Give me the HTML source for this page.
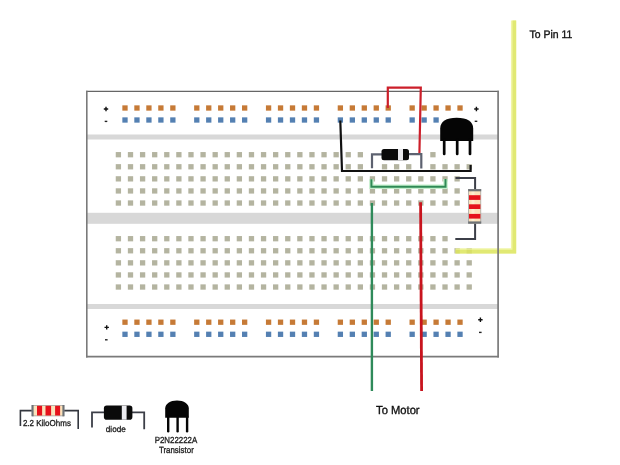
<!DOCTYPE html><html><head><meta charset="utf-8"><style>html,body{margin:0;padding:0;background:#fff;width:620px;height:465px;overflow:hidden}svg{display:block}text{font-family:"Liberation Sans",sans-serif;text-rendering:geometricPrecision}svg{will-change:transform}</style></head><body>
<svg width="620" height="465" viewBox="0 0 620 465">
<rect x="0" y="0" width="620" height="465" fill="#fff"/>
<rect x="87" y="134.5" width="411" height="5" fill="#d8d8d8"/>
<rect x="87" y="212.8" width="411" height="11" fill="#d8d8d8"/>
<rect x="87" y="304" width="411" height="5" fill="#d8d8d8"/>
<rect x="122.35" y="105.35" width="5.3" height="5.3" fill="#c67a36"/>
<rect x="122.35" y="117.35" width="5.3" height="5.3" fill="#5480b2"/>
<rect x="122.35" y="319.55" width="5.3" height="5.3" fill="#c67a36"/>
<rect x="122.35" y="331.65" width="5.3" height="5.3" fill="#5480b2"/>
<rect x="134.31" y="105.35" width="5.3" height="5.3" fill="#c67a36"/>
<rect x="134.31" y="117.35" width="5.3" height="5.3" fill="#5480b2"/>
<rect x="134.31" y="319.55" width="5.3" height="5.3" fill="#c67a36"/>
<rect x="134.31" y="331.65" width="5.3" height="5.3" fill="#5480b2"/>
<rect x="146.28" y="105.35" width="5.3" height="5.3" fill="#c67a36"/>
<rect x="146.28" y="117.35" width="5.3" height="5.3" fill="#5480b2"/>
<rect x="146.28" y="319.55" width="5.3" height="5.3" fill="#c67a36"/>
<rect x="146.28" y="331.65" width="5.3" height="5.3" fill="#5480b2"/>
<rect x="158.24" y="105.35" width="5.3" height="5.3" fill="#c67a36"/>
<rect x="158.24" y="117.35" width="5.3" height="5.3" fill="#5480b2"/>
<rect x="158.24" y="319.55" width="5.3" height="5.3" fill="#c67a36"/>
<rect x="158.24" y="331.65" width="5.3" height="5.3" fill="#5480b2"/>
<rect x="170.21" y="105.35" width="5.3" height="5.3" fill="#c67a36"/>
<rect x="170.21" y="117.35" width="5.3" height="5.3" fill="#5480b2"/>
<rect x="170.21" y="319.55" width="5.3" height="5.3" fill="#c67a36"/>
<rect x="170.21" y="331.65" width="5.3" height="5.3" fill="#5480b2"/>
<rect x="194.14" y="105.35" width="5.3" height="5.3" fill="#c67a36"/>
<rect x="194.14" y="117.35" width="5.3" height="5.3" fill="#5480b2"/>
<rect x="194.14" y="319.55" width="5.3" height="5.3" fill="#c67a36"/>
<rect x="194.14" y="331.65" width="5.3" height="5.3" fill="#5480b2"/>
<rect x="206.10" y="105.35" width="5.3" height="5.3" fill="#c67a36"/>
<rect x="206.10" y="117.35" width="5.3" height="5.3" fill="#5480b2"/>
<rect x="206.10" y="319.55" width="5.3" height="5.3" fill="#c67a36"/>
<rect x="206.10" y="331.65" width="5.3" height="5.3" fill="#5480b2"/>
<rect x="218.07" y="105.35" width="5.3" height="5.3" fill="#c67a36"/>
<rect x="218.07" y="117.35" width="5.3" height="5.3" fill="#5480b2"/>
<rect x="218.07" y="319.55" width="5.3" height="5.3" fill="#c67a36"/>
<rect x="218.07" y="331.65" width="5.3" height="5.3" fill="#5480b2"/>
<rect x="230.03" y="105.35" width="5.3" height="5.3" fill="#c67a36"/>
<rect x="230.03" y="117.35" width="5.3" height="5.3" fill="#5480b2"/>
<rect x="230.03" y="319.55" width="5.3" height="5.3" fill="#c67a36"/>
<rect x="230.03" y="331.65" width="5.3" height="5.3" fill="#5480b2"/>
<rect x="242.00" y="105.35" width="5.3" height="5.3" fill="#c67a36"/>
<rect x="242.00" y="117.35" width="5.3" height="5.3" fill="#5480b2"/>
<rect x="242.00" y="319.55" width="5.3" height="5.3" fill="#c67a36"/>
<rect x="242.00" y="331.65" width="5.3" height="5.3" fill="#5480b2"/>
<rect x="265.93" y="105.35" width="5.3" height="5.3" fill="#c67a36"/>
<rect x="265.93" y="117.35" width="5.3" height="5.3" fill="#5480b2"/>
<rect x="265.93" y="319.55" width="5.3" height="5.3" fill="#c67a36"/>
<rect x="265.93" y="331.65" width="5.3" height="5.3" fill="#5480b2"/>
<rect x="277.89" y="105.35" width="5.3" height="5.3" fill="#c67a36"/>
<rect x="277.89" y="117.35" width="5.3" height="5.3" fill="#5480b2"/>
<rect x="277.89" y="319.55" width="5.3" height="5.3" fill="#c67a36"/>
<rect x="277.89" y="331.65" width="5.3" height="5.3" fill="#5480b2"/>
<rect x="289.86" y="105.35" width="5.3" height="5.3" fill="#c67a36"/>
<rect x="289.86" y="117.35" width="5.3" height="5.3" fill="#5480b2"/>
<rect x="289.86" y="319.55" width="5.3" height="5.3" fill="#c67a36"/>
<rect x="289.86" y="331.65" width="5.3" height="5.3" fill="#5480b2"/>
<rect x="301.83" y="105.35" width="5.3" height="5.3" fill="#c67a36"/>
<rect x="301.83" y="117.35" width="5.3" height="5.3" fill="#5480b2"/>
<rect x="301.83" y="319.55" width="5.3" height="5.3" fill="#c67a36"/>
<rect x="301.83" y="331.65" width="5.3" height="5.3" fill="#5480b2"/>
<rect x="313.79" y="105.35" width="5.3" height="5.3" fill="#c67a36"/>
<rect x="313.79" y="117.35" width="5.3" height="5.3" fill="#5480b2"/>
<rect x="313.79" y="319.55" width="5.3" height="5.3" fill="#c67a36"/>
<rect x="313.79" y="331.65" width="5.3" height="5.3" fill="#5480b2"/>
<rect x="337.72" y="105.35" width="5.3" height="5.3" fill="#c67a36"/>
<rect x="337.72" y="117.35" width="5.3" height="5.3" fill="#5480b2"/>
<rect x="337.72" y="319.55" width="5.3" height="5.3" fill="#c67a36"/>
<rect x="337.72" y="331.65" width="5.3" height="5.3" fill="#5480b2"/>
<rect x="349.69" y="105.35" width="5.3" height="5.3" fill="#c67a36"/>
<rect x="349.69" y="117.35" width="5.3" height="5.3" fill="#5480b2"/>
<rect x="349.69" y="319.55" width="5.3" height="5.3" fill="#c67a36"/>
<rect x="349.69" y="331.65" width="5.3" height="5.3" fill="#5480b2"/>
<rect x="361.65" y="105.35" width="5.3" height="5.3" fill="#c67a36"/>
<rect x="361.65" y="117.35" width="5.3" height="5.3" fill="#5480b2"/>
<rect x="361.65" y="319.55" width="5.3" height="5.3" fill="#c67a36"/>
<rect x="361.65" y="331.65" width="5.3" height="5.3" fill="#5480b2"/>
<rect x="373.62" y="105.35" width="5.3" height="5.3" fill="#c67a36"/>
<rect x="373.62" y="117.35" width="5.3" height="5.3" fill="#5480b2"/>
<rect x="373.62" y="319.55" width="5.3" height="5.3" fill="#c67a36"/>
<rect x="373.62" y="331.65" width="5.3" height="5.3" fill="#5480b2"/>
<rect x="385.58" y="105.35" width="5.3" height="5.3" fill="#c67a36"/>
<rect x="385.58" y="117.35" width="5.3" height="5.3" fill="#5480b2"/>
<rect x="385.58" y="319.55" width="5.3" height="5.3" fill="#c67a36"/>
<rect x="385.58" y="331.65" width="5.3" height="5.3" fill="#5480b2"/>
<rect x="409.51" y="105.35" width="5.3" height="5.3" fill="#c67a36"/>
<rect x="409.51" y="117.35" width="5.3" height="5.3" fill="#5480b2"/>
<rect x="409.51" y="319.55" width="5.3" height="5.3" fill="#c67a36"/>
<rect x="409.51" y="331.65" width="5.3" height="5.3" fill="#5480b2"/>
<rect x="421.48" y="105.35" width="5.3" height="5.3" fill="#c67a36"/>
<rect x="421.48" y="117.35" width="5.3" height="5.3" fill="#5480b2"/>
<rect x="421.48" y="319.55" width="5.3" height="5.3" fill="#c67a36"/>
<rect x="421.48" y="331.65" width="5.3" height="5.3" fill="#5480b2"/>
<rect x="433.44" y="105.35" width="5.3" height="5.3" fill="#c67a36"/>
<rect x="433.44" y="117.35" width="5.3" height="5.3" fill="#5480b2"/>
<rect x="433.44" y="319.55" width="5.3" height="5.3" fill="#c67a36"/>
<rect x="433.44" y="331.65" width="5.3" height="5.3" fill="#5480b2"/>
<rect x="445.41" y="105.35" width="5.3" height="5.3" fill="#c67a36"/>
<rect x="445.41" y="319.55" width="5.3" height="5.3" fill="#c67a36"/>
<rect x="445.41" y="331.65" width="5.3" height="5.3" fill="#5480b2"/>
<rect x="457.37" y="105.35" width="5.3" height="5.3" fill="#c67a36"/>
<rect x="457.37" y="319.55" width="5.3" height="5.3" fill="#c67a36"/>
<rect x="457.37" y="331.65" width="5.3" height="5.3" fill="#5480b2"/>
<rect x="115.75" y="152.05" width="5.3" height="5.3" fill="#b4b4a0"/>
<rect x="115.75" y="236.05" width="5.3" height="5.3" fill="#b4b4a0"/>
<rect x="115.75" y="164.13" width="5.3" height="5.3" fill="#b4b4a0"/>
<rect x="115.75" y="248.13" width="5.3" height="5.3" fill="#b4b4a0"/>
<rect x="115.75" y="176.21" width="5.3" height="5.3" fill="#b4b4a0"/>
<rect x="115.75" y="260.21" width="5.3" height="5.3" fill="#b4b4a0"/>
<rect x="115.75" y="188.29" width="5.3" height="5.3" fill="#b4b4a0"/>
<rect x="115.75" y="272.29" width="5.3" height="5.3" fill="#b4b4a0"/>
<rect x="115.75" y="200.37" width="5.3" height="5.3" fill="#b4b4a0"/>
<rect x="115.75" y="284.37" width="5.3" height="5.3" fill="#b4b4a0"/>
<rect x="127.85" y="152.05" width="5.3" height="5.3" fill="#b4b4a0"/>
<rect x="127.85" y="236.05" width="5.3" height="5.3" fill="#b4b4a0"/>
<rect x="127.85" y="164.13" width="5.3" height="5.3" fill="#b4b4a0"/>
<rect x="127.85" y="248.13" width="5.3" height="5.3" fill="#b4b4a0"/>
<rect x="127.85" y="176.21" width="5.3" height="5.3" fill="#b4b4a0"/>
<rect x="127.85" y="260.21" width="5.3" height="5.3" fill="#b4b4a0"/>
<rect x="127.85" y="188.29" width="5.3" height="5.3" fill="#b4b4a0"/>
<rect x="127.85" y="272.29" width="5.3" height="5.3" fill="#b4b4a0"/>
<rect x="127.85" y="200.37" width="5.3" height="5.3" fill="#b4b4a0"/>
<rect x="127.85" y="284.37" width="5.3" height="5.3" fill="#b4b4a0"/>
<rect x="139.94" y="152.05" width="5.3" height="5.3" fill="#b4b4a0"/>
<rect x="139.94" y="236.05" width="5.3" height="5.3" fill="#b4b4a0"/>
<rect x="139.94" y="164.13" width="5.3" height="5.3" fill="#b4b4a0"/>
<rect x="139.94" y="248.13" width="5.3" height="5.3" fill="#b4b4a0"/>
<rect x="139.94" y="176.21" width="5.3" height="5.3" fill="#b4b4a0"/>
<rect x="139.94" y="260.21" width="5.3" height="5.3" fill="#b4b4a0"/>
<rect x="139.94" y="188.29" width="5.3" height="5.3" fill="#b4b4a0"/>
<rect x="139.94" y="272.29" width="5.3" height="5.3" fill="#b4b4a0"/>
<rect x="139.94" y="200.37" width="5.3" height="5.3" fill="#b4b4a0"/>
<rect x="139.94" y="284.37" width="5.3" height="5.3" fill="#b4b4a0"/>
<rect x="152.04" y="152.05" width="5.3" height="5.3" fill="#b4b4a0"/>
<rect x="152.04" y="236.05" width="5.3" height="5.3" fill="#b4b4a0"/>
<rect x="152.04" y="164.13" width="5.3" height="5.3" fill="#b4b4a0"/>
<rect x="152.04" y="248.13" width="5.3" height="5.3" fill="#b4b4a0"/>
<rect x="152.04" y="176.21" width="5.3" height="5.3" fill="#b4b4a0"/>
<rect x="152.04" y="260.21" width="5.3" height="5.3" fill="#b4b4a0"/>
<rect x="152.04" y="188.29" width="5.3" height="5.3" fill="#b4b4a0"/>
<rect x="152.04" y="272.29" width="5.3" height="5.3" fill="#b4b4a0"/>
<rect x="152.04" y="200.37" width="5.3" height="5.3" fill="#b4b4a0"/>
<rect x="152.04" y="284.37" width="5.3" height="5.3" fill="#b4b4a0"/>
<rect x="164.14" y="152.05" width="5.3" height="5.3" fill="#b4b4a0"/>
<rect x="164.14" y="236.05" width="5.3" height="5.3" fill="#b4b4a0"/>
<rect x="164.14" y="164.13" width="5.3" height="5.3" fill="#b4b4a0"/>
<rect x="164.14" y="248.13" width="5.3" height="5.3" fill="#b4b4a0"/>
<rect x="164.14" y="176.21" width="5.3" height="5.3" fill="#b4b4a0"/>
<rect x="164.14" y="260.21" width="5.3" height="5.3" fill="#b4b4a0"/>
<rect x="164.14" y="188.29" width="5.3" height="5.3" fill="#b4b4a0"/>
<rect x="164.14" y="272.29" width="5.3" height="5.3" fill="#b4b4a0"/>
<rect x="164.14" y="200.37" width="5.3" height="5.3" fill="#b4b4a0"/>
<rect x="164.14" y="284.37" width="5.3" height="5.3" fill="#b4b4a0"/>
<rect x="176.23" y="152.05" width="5.3" height="5.3" fill="#b4b4a0"/>
<rect x="176.23" y="236.05" width="5.3" height="5.3" fill="#b4b4a0"/>
<rect x="176.23" y="164.13" width="5.3" height="5.3" fill="#b4b4a0"/>
<rect x="176.23" y="248.13" width="5.3" height="5.3" fill="#b4b4a0"/>
<rect x="176.23" y="176.21" width="5.3" height="5.3" fill="#b4b4a0"/>
<rect x="176.23" y="260.21" width="5.3" height="5.3" fill="#b4b4a0"/>
<rect x="176.23" y="188.29" width="5.3" height="5.3" fill="#b4b4a0"/>
<rect x="176.23" y="272.29" width="5.3" height="5.3" fill="#b4b4a0"/>
<rect x="176.23" y="200.37" width="5.3" height="5.3" fill="#b4b4a0"/>
<rect x="176.23" y="284.37" width="5.3" height="5.3" fill="#b4b4a0"/>
<rect x="188.33" y="152.05" width="5.3" height="5.3" fill="#b4b4a0"/>
<rect x="188.33" y="236.05" width="5.3" height="5.3" fill="#b4b4a0"/>
<rect x="188.33" y="164.13" width="5.3" height="5.3" fill="#b4b4a0"/>
<rect x="188.33" y="248.13" width="5.3" height="5.3" fill="#b4b4a0"/>
<rect x="188.33" y="176.21" width="5.3" height="5.3" fill="#b4b4a0"/>
<rect x="188.33" y="260.21" width="5.3" height="5.3" fill="#b4b4a0"/>
<rect x="188.33" y="188.29" width="5.3" height="5.3" fill="#b4b4a0"/>
<rect x="188.33" y="272.29" width="5.3" height="5.3" fill="#b4b4a0"/>
<rect x="188.33" y="200.37" width="5.3" height="5.3" fill="#b4b4a0"/>
<rect x="188.33" y="284.37" width="5.3" height="5.3" fill="#b4b4a0"/>
<rect x="200.43" y="152.05" width="5.3" height="5.3" fill="#b4b4a0"/>
<rect x="200.43" y="236.05" width="5.3" height="5.3" fill="#b4b4a0"/>
<rect x="200.43" y="164.13" width="5.3" height="5.3" fill="#b4b4a0"/>
<rect x="200.43" y="248.13" width="5.3" height="5.3" fill="#b4b4a0"/>
<rect x="200.43" y="176.21" width="5.3" height="5.3" fill="#b4b4a0"/>
<rect x="200.43" y="260.21" width="5.3" height="5.3" fill="#b4b4a0"/>
<rect x="200.43" y="188.29" width="5.3" height="5.3" fill="#b4b4a0"/>
<rect x="200.43" y="272.29" width="5.3" height="5.3" fill="#b4b4a0"/>
<rect x="200.43" y="200.37" width="5.3" height="5.3" fill="#b4b4a0"/>
<rect x="200.43" y="284.37" width="5.3" height="5.3" fill="#b4b4a0"/>
<rect x="212.53" y="152.05" width="5.3" height="5.3" fill="#b4b4a0"/>
<rect x="212.53" y="236.05" width="5.3" height="5.3" fill="#b4b4a0"/>
<rect x="212.53" y="164.13" width="5.3" height="5.3" fill="#b4b4a0"/>
<rect x="212.53" y="248.13" width="5.3" height="5.3" fill="#b4b4a0"/>
<rect x="212.53" y="176.21" width="5.3" height="5.3" fill="#b4b4a0"/>
<rect x="212.53" y="260.21" width="5.3" height="5.3" fill="#b4b4a0"/>
<rect x="212.53" y="188.29" width="5.3" height="5.3" fill="#b4b4a0"/>
<rect x="212.53" y="272.29" width="5.3" height="5.3" fill="#b4b4a0"/>
<rect x="212.53" y="200.37" width="5.3" height="5.3" fill="#b4b4a0"/>
<rect x="212.53" y="284.37" width="5.3" height="5.3" fill="#b4b4a0"/>
<rect x="224.62" y="152.05" width="5.3" height="5.3" fill="#b4b4a0"/>
<rect x="224.62" y="236.05" width="5.3" height="5.3" fill="#b4b4a0"/>
<rect x="224.62" y="164.13" width="5.3" height="5.3" fill="#b4b4a0"/>
<rect x="224.62" y="248.13" width="5.3" height="5.3" fill="#b4b4a0"/>
<rect x="224.62" y="176.21" width="5.3" height="5.3" fill="#b4b4a0"/>
<rect x="224.62" y="260.21" width="5.3" height="5.3" fill="#b4b4a0"/>
<rect x="224.62" y="188.29" width="5.3" height="5.3" fill="#b4b4a0"/>
<rect x="224.62" y="272.29" width="5.3" height="5.3" fill="#b4b4a0"/>
<rect x="224.62" y="200.37" width="5.3" height="5.3" fill="#b4b4a0"/>
<rect x="224.62" y="284.37" width="5.3" height="5.3" fill="#b4b4a0"/>
<rect x="236.72" y="152.05" width="5.3" height="5.3" fill="#b4b4a0"/>
<rect x="236.72" y="236.05" width="5.3" height="5.3" fill="#b4b4a0"/>
<rect x="236.72" y="164.13" width="5.3" height="5.3" fill="#b4b4a0"/>
<rect x="236.72" y="248.13" width="5.3" height="5.3" fill="#b4b4a0"/>
<rect x="236.72" y="176.21" width="5.3" height="5.3" fill="#b4b4a0"/>
<rect x="236.72" y="260.21" width="5.3" height="5.3" fill="#b4b4a0"/>
<rect x="236.72" y="188.29" width="5.3" height="5.3" fill="#b4b4a0"/>
<rect x="236.72" y="272.29" width="5.3" height="5.3" fill="#b4b4a0"/>
<rect x="236.72" y="200.37" width="5.3" height="5.3" fill="#b4b4a0"/>
<rect x="236.72" y="284.37" width="5.3" height="5.3" fill="#b4b4a0"/>
<rect x="248.82" y="152.05" width="5.3" height="5.3" fill="#b4b4a0"/>
<rect x="248.82" y="236.05" width="5.3" height="5.3" fill="#b4b4a0"/>
<rect x="248.82" y="164.13" width="5.3" height="5.3" fill="#b4b4a0"/>
<rect x="248.82" y="248.13" width="5.3" height="5.3" fill="#b4b4a0"/>
<rect x="248.82" y="176.21" width="5.3" height="5.3" fill="#b4b4a0"/>
<rect x="248.82" y="260.21" width="5.3" height="5.3" fill="#b4b4a0"/>
<rect x="248.82" y="188.29" width="5.3" height="5.3" fill="#b4b4a0"/>
<rect x="248.82" y="272.29" width="5.3" height="5.3" fill="#b4b4a0"/>
<rect x="248.82" y="200.37" width="5.3" height="5.3" fill="#b4b4a0"/>
<rect x="248.82" y="284.37" width="5.3" height="5.3" fill="#b4b4a0"/>
<rect x="260.91" y="152.05" width="5.3" height="5.3" fill="#b4b4a0"/>
<rect x="260.91" y="236.05" width="5.3" height="5.3" fill="#b4b4a0"/>
<rect x="260.91" y="164.13" width="5.3" height="5.3" fill="#b4b4a0"/>
<rect x="260.91" y="248.13" width="5.3" height="5.3" fill="#b4b4a0"/>
<rect x="260.91" y="176.21" width="5.3" height="5.3" fill="#b4b4a0"/>
<rect x="260.91" y="260.21" width="5.3" height="5.3" fill="#b4b4a0"/>
<rect x="260.91" y="188.29" width="5.3" height="5.3" fill="#b4b4a0"/>
<rect x="260.91" y="272.29" width="5.3" height="5.3" fill="#b4b4a0"/>
<rect x="260.91" y="200.37" width="5.3" height="5.3" fill="#b4b4a0"/>
<rect x="260.91" y="284.37" width="5.3" height="5.3" fill="#b4b4a0"/>
<rect x="273.01" y="152.05" width="5.3" height="5.3" fill="#b4b4a0"/>
<rect x="273.01" y="236.05" width="5.3" height="5.3" fill="#b4b4a0"/>
<rect x="273.01" y="164.13" width="5.3" height="5.3" fill="#b4b4a0"/>
<rect x="273.01" y="248.13" width="5.3" height="5.3" fill="#b4b4a0"/>
<rect x="273.01" y="176.21" width="5.3" height="5.3" fill="#b4b4a0"/>
<rect x="273.01" y="260.21" width="5.3" height="5.3" fill="#b4b4a0"/>
<rect x="273.01" y="188.29" width="5.3" height="5.3" fill="#b4b4a0"/>
<rect x="273.01" y="272.29" width="5.3" height="5.3" fill="#b4b4a0"/>
<rect x="273.01" y="200.37" width="5.3" height="5.3" fill="#b4b4a0"/>
<rect x="273.01" y="284.37" width="5.3" height="5.3" fill="#b4b4a0"/>
<rect x="285.11" y="152.05" width="5.3" height="5.3" fill="#b4b4a0"/>
<rect x="285.11" y="236.05" width="5.3" height="5.3" fill="#b4b4a0"/>
<rect x="285.11" y="164.13" width="5.3" height="5.3" fill="#b4b4a0"/>
<rect x="285.11" y="248.13" width="5.3" height="5.3" fill="#b4b4a0"/>
<rect x="285.11" y="176.21" width="5.3" height="5.3" fill="#b4b4a0"/>
<rect x="285.11" y="260.21" width="5.3" height="5.3" fill="#b4b4a0"/>
<rect x="285.11" y="188.29" width="5.3" height="5.3" fill="#b4b4a0"/>
<rect x="285.11" y="272.29" width="5.3" height="5.3" fill="#b4b4a0"/>
<rect x="285.11" y="200.37" width="5.3" height="5.3" fill="#b4b4a0"/>
<rect x="285.11" y="284.37" width="5.3" height="5.3" fill="#b4b4a0"/>
<rect x="297.21" y="152.05" width="5.3" height="5.3" fill="#b4b4a0"/>
<rect x="297.21" y="236.05" width="5.3" height="5.3" fill="#b4b4a0"/>
<rect x="297.21" y="164.13" width="5.3" height="5.3" fill="#b4b4a0"/>
<rect x="297.21" y="248.13" width="5.3" height="5.3" fill="#b4b4a0"/>
<rect x="297.21" y="176.21" width="5.3" height="5.3" fill="#b4b4a0"/>
<rect x="297.21" y="260.21" width="5.3" height="5.3" fill="#b4b4a0"/>
<rect x="297.21" y="188.29" width="5.3" height="5.3" fill="#b4b4a0"/>
<rect x="297.21" y="272.29" width="5.3" height="5.3" fill="#b4b4a0"/>
<rect x="297.21" y="200.37" width="5.3" height="5.3" fill="#b4b4a0"/>
<rect x="297.21" y="284.37" width="5.3" height="5.3" fill="#b4b4a0"/>
<rect x="309.30" y="152.05" width="5.3" height="5.3" fill="#b4b4a0"/>
<rect x="309.30" y="236.05" width="5.3" height="5.3" fill="#b4b4a0"/>
<rect x="309.30" y="164.13" width="5.3" height="5.3" fill="#b4b4a0"/>
<rect x="309.30" y="248.13" width="5.3" height="5.3" fill="#b4b4a0"/>
<rect x="309.30" y="176.21" width="5.3" height="5.3" fill="#b4b4a0"/>
<rect x="309.30" y="260.21" width="5.3" height="5.3" fill="#b4b4a0"/>
<rect x="309.30" y="188.29" width="5.3" height="5.3" fill="#b4b4a0"/>
<rect x="309.30" y="272.29" width="5.3" height="5.3" fill="#b4b4a0"/>
<rect x="309.30" y="200.37" width="5.3" height="5.3" fill="#b4b4a0"/>
<rect x="309.30" y="284.37" width="5.3" height="5.3" fill="#b4b4a0"/>
<rect x="321.40" y="152.05" width="5.3" height="5.3" fill="#b4b4a0"/>
<rect x="321.40" y="236.05" width="5.3" height="5.3" fill="#b4b4a0"/>
<rect x="321.40" y="164.13" width="5.3" height="5.3" fill="#b4b4a0"/>
<rect x="321.40" y="248.13" width="5.3" height="5.3" fill="#b4b4a0"/>
<rect x="321.40" y="176.21" width="5.3" height="5.3" fill="#b4b4a0"/>
<rect x="321.40" y="260.21" width="5.3" height="5.3" fill="#b4b4a0"/>
<rect x="321.40" y="188.29" width="5.3" height="5.3" fill="#b4b4a0"/>
<rect x="321.40" y="272.29" width="5.3" height="5.3" fill="#b4b4a0"/>
<rect x="321.40" y="200.37" width="5.3" height="5.3" fill="#b4b4a0"/>
<rect x="321.40" y="284.37" width="5.3" height="5.3" fill="#b4b4a0"/>
<rect x="333.50" y="152.05" width="5.3" height="5.3" fill="#b4b4a0"/>
<rect x="333.50" y="236.05" width="5.3" height="5.3" fill="#b4b4a0"/>
<rect x="333.50" y="164.13" width="5.3" height="5.3" fill="#b4b4a0"/>
<rect x="333.50" y="248.13" width="5.3" height="5.3" fill="#b4b4a0"/>
<rect x="333.50" y="176.21" width="5.3" height="5.3" fill="#b4b4a0"/>
<rect x="333.50" y="260.21" width="5.3" height="5.3" fill="#b4b4a0"/>
<rect x="333.50" y="188.29" width="5.3" height="5.3" fill="#b4b4a0"/>
<rect x="333.50" y="272.29" width="5.3" height="5.3" fill="#b4b4a0"/>
<rect x="333.50" y="200.37" width="5.3" height="5.3" fill="#b4b4a0"/>
<rect x="333.50" y="284.37" width="5.3" height="5.3" fill="#b4b4a0"/>
<rect x="345.59" y="152.05" width="5.3" height="5.3" fill="#b4b4a0"/>
<rect x="345.59" y="236.05" width="5.3" height="5.3" fill="#b4b4a0"/>
<rect x="345.59" y="164.13" width="5.3" height="5.3" fill="#b4b4a0"/>
<rect x="345.59" y="248.13" width="5.3" height="5.3" fill="#b4b4a0"/>
<rect x="345.59" y="176.21" width="5.3" height="5.3" fill="#b4b4a0"/>
<rect x="345.59" y="260.21" width="5.3" height="5.3" fill="#b4b4a0"/>
<rect x="345.59" y="188.29" width="5.3" height="5.3" fill="#b4b4a0"/>
<rect x="345.59" y="272.29" width="5.3" height="5.3" fill="#b4b4a0"/>
<rect x="345.59" y="200.37" width="5.3" height="5.3" fill="#b4b4a0"/>
<rect x="345.59" y="284.37" width="5.3" height="5.3" fill="#b4b4a0"/>
<rect x="357.69" y="152.05" width="5.3" height="5.3" fill="#b4b4a0"/>
<rect x="357.69" y="236.05" width="5.3" height="5.3" fill="#b4b4a0"/>
<rect x="357.69" y="164.13" width="5.3" height="5.3" fill="#b4b4a0"/>
<rect x="357.69" y="248.13" width="5.3" height="5.3" fill="#b4b4a0"/>
<rect x="357.69" y="176.21" width="5.3" height="5.3" fill="#b4b4a0"/>
<rect x="357.69" y="260.21" width="5.3" height="5.3" fill="#b4b4a0"/>
<rect x="357.69" y="188.29" width="5.3" height="5.3" fill="#b4b4a0"/>
<rect x="357.69" y="272.29" width="5.3" height="5.3" fill="#b4b4a0"/>
<rect x="357.69" y="200.37" width="5.3" height="5.3" fill="#b4b4a0"/>
<rect x="357.69" y="284.37" width="5.3" height="5.3" fill="#b4b4a0"/>
<rect x="369.79" y="236.05" width="5.3" height="5.3" fill="#b4b4a0"/>
<rect x="369.79" y="248.13" width="5.3" height="5.3" fill="#b4b4a0"/>
<rect x="369.79" y="176.21" width="5.3" height="5.3" fill="#b4b4a0"/>
<rect x="369.79" y="260.21" width="5.3" height="5.3" fill="#b4b4a0"/>
<rect x="369.79" y="188.29" width="5.3" height="5.3" fill="#b4b4a0"/>
<rect x="369.79" y="272.29" width="5.3" height="5.3" fill="#b4b4a0"/>
<rect x="369.79" y="200.37" width="5.3" height="5.3" fill="#b4b4a0"/>
<rect x="369.79" y="284.37" width="5.3" height="5.3" fill="#b4b4a0"/>
<rect x="381.88" y="236.05" width="5.3" height="5.3" fill="#b4b4a0"/>
<rect x="381.88" y="164.13" width="5.3" height="5.3" fill="#b4b4a0"/>
<rect x="381.88" y="248.13" width="5.3" height="5.3" fill="#b4b4a0"/>
<rect x="381.88" y="176.21" width="5.3" height="5.3" fill="#b4b4a0"/>
<rect x="381.88" y="260.21" width="5.3" height="5.3" fill="#b4b4a0"/>
<rect x="381.88" y="188.29" width="5.3" height="5.3" fill="#b4b4a0"/>
<rect x="381.88" y="272.29" width="5.3" height="5.3" fill="#b4b4a0"/>
<rect x="381.88" y="200.37" width="5.3" height="5.3" fill="#b4b4a0"/>
<rect x="381.88" y="284.37" width="5.3" height="5.3" fill="#b4b4a0"/>
<rect x="393.98" y="236.05" width="5.3" height="5.3" fill="#b4b4a0"/>
<rect x="393.98" y="164.13" width="5.3" height="5.3" fill="#b4b4a0"/>
<rect x="393.98" y="248.13" width="5.3" height="5.3" fill="#b4b4a0"/>
<rect x="393.98" y="176.21" width="5.3" height="5.3" fill="#b4b4a0"/>
<rect x="393.98" y="260.21" width="5.3" height="5.3" fill="#b4b4a0"/>
<rect x="393.98" y="188.29" width="5.3" height="5.3" fill="#b4b4a0"/>
<rect x="393.98" y="272.29" width="5.3" height="5.3" fill="#b4b4a0"/>
<rect x="393.98" y="200.37" width="5.3" height="5.3" fill="#b4b4a0"/>
<rect x="393.98" y="284.37" width="5.3" height="5.3" fill="#b4b4a0"/>
<rect x="406.08" y="236.05" width="5.3" height="5.3" fill="#b4b4a0"/>
<rect x="406.08" y="164.13" width="5.3" height="5.3" fill="#b4b4a0"/>
<rect x="406.08" y="248.13" width="5.3" height="5.3" fill="#b4b4a0"/>
<rect x="406.08" y="176.21" width="5.3" height="5.3" fill="#b4b4a0"/>
<rect x="406.08" y="260.21" width="5.3" height="5.3" fill="#b4b4a0"/>
<rect x="406.08" y="188.29" width="5.3" height="5.3" fill="#b4b4a0"/>
<rect x="406.08" y="272.29" width="5.3" height="5.3" fill="#b4b4a0"/>
<rect x="406.08" y="200.37" width="5.3" height="5.3" fill="#b4b4a0"/>
<rect x="406.08" y="284.37" width="5.3" height="5.3" fill="#b4b4a0"/>
<rect x="418.18" y="236.05" width="5.3" height="5.3" fill="#b4b4a0"/>
<rect x="418.18" y="248.13" width="5.3" height="5.3" fill="#b4b4a0"/>
<rect x="418.18" y="176.21" width="5.3" height="5.3" fill="#b4b4a0"/>
<rect x="418.18" y="260.21" width="5.3" height="5.3" fill="#b4b4a0"/>
<rect x="418.18" y="188.29" width="5.3" height="5.3" fill="#b4b4a0"/>
<rect x="418.18" y="272.29" width="5.3" height="5.3" fill="#b4b4a0"/>
<rect x="418.18" y="200.37" width="5.3" height="5.3" fill="#b4b4a0"/>
<rect x="418.18" y="284.37" width="5.3" height="5.3" fill="#b4b4a0"/>
<rect x="430.27" y="152.05" width="5.3" height="5.3" fill="#b4b4a0"/>
<rect x="430.27" y="236.05" width="5.3" height="5.3" fill="#b4b4a0"/>
<rect x="430.27" y="164.13" width="5.3" height="5.3" fill="#b4b4a0"/>
<rect x="430.27" y="248.13" width="5.3" height="5.3" fill="#b4b4a0"/>
<rect x="430.27" y="176.21" width="5.3" height="5.3" fill="#b4b4a0"/>
<rect x="430.27" y="260.21" width="5.3" height="5.3" fill="#b4b4a0"/>
<rect x="430.27" y="188.29" width="5.3" height="5.3" fill="#b4b4a0"/>
<rect x="430.27" y="272.29" width="5.3" height="5.3" fill="#b4b4a0"/>
<rect x="430.27" y="200.37" width="5.3" height="5.3" fill="#b4b4a0"/>
<rect x="430.27" y="284.37" width="5.3" height="5.3" fill="#b4b4a0"/>
<rect x="442.37" y="236.05" width="5.3" height="5.3" fill="#b4b4a0"/>
<rect x="442.37" y="164.13" width="5.3" height="5.3" fill="#b4b4a0"/>
<rect x="442.37" y="248.13" width="5.3" height="5.3" fill="#b4b4a0"/>
<rect x="442.37" y="176.21" width="5.3" height="5.3" fill="#b4b4a0"/>
<rect x="442.37" y="260.21" width="5.3" height="5.3" fill="#b4b4a0"/>
<rect x="442.37" y="188.29" width="5.3" height="5.3" fill="#b4b4a0"/>
<rect x="442.37" y="272.29" width="5.3" height="5.3" fill="#b4b4a0"/>
<rect x="442.37" y="200.37" width="5.3" height="5.3" fill="#b4b4a0"/>
<rect x="442.37" y="284.37" width="5.3" height="5.3" fill="#b4b4a0"/>
<rect x="454.47" y="164.13" width="5.3" height="5.3" fill="#b4b4a0"/>
<rect x="454.47" y="248.13" width="5.3" height="5.3" fill="#b4b4a0"/>
<rect x="454.47" y="176.21" width="5.3" height="5.3" fill="#b4b4a0"/>
<rect x="454.47" y="260.21" width="5.3" height="5.3" fill="#b4b4a0"/>
<rect x="454.47" y="188.29" width="5.3" height="5.3" fill="#b4b4a0"/>
<rect x="454.47" y="272.29" width="5.3" height="5.3" fill="#b4b4a0"/>
<rect x="454.47" y="200.37" width="5.3" height="5.3" fill="#b4b4a0"/>
<rect x="454.47" y="284.37" width="5.3" height="5.3" fill="#b4b4a0"/>
<rect x="466.56" y="164.13" width="5.3" height="5.3" fill="#b4b4a0"/>
<rect x="466.56" y="248.13" width="5.3" height="5.3" fill="#b4b4a0"/>
<rect x="466.56" y="260.21" width="5.3" height="5.3" fill="#b4b4a0"/>
<rect x="466.56" y="272.29" width="5.3" height="5.3" fill="#b4b4a0"/>
<rect x="466.56" y="284.37" width="5.3" height="5.3" fill="#b4b4a0"/>
<path d="M103.8,109 H108.2 M106,106.8 V111.2" stroke="#111" stroke-width="1.4"/>
<path d="M104.7,121.4 H107.3" stroke="#222" stroke-width="1.4"/>
<path d="M474.2,109 H478.59999999999997 M476.4,106.8 V111.2" stroke="#111" stroke-width="1.4"/>
<path d="M474.7,121.3 H477.3" stroke="#222" stroke-width="1.4"/>
<path d="M104.5,327.4 H108.9 M106.7,325.2 V329.59999999999997" stroke="#111" stroke-width="1.4"/>
<path d="M105.0,339.8 H107.6" stroke="#222" stroke-width="1.4"/>
<path d="M478.2,319.8 H482.59999999999997 M480.4,317.6 V322.0" stroke="#111" stroke-width="1.4"/>
<path d="M479.0,332.4 H481.6" stroke="#222" stroke-width="1.4"/>
<g opacity="0.88"><path d="M455.5,250.9 L513.6,250.9 L513.6,20.5" fill="none" stroke="#eef49a" stroke-width="5.4"/>
<path d="M455.5,251.6 L514.3,251.6 L514.3,20.5" fill="none" stroke="#dde660" stroke-width="3.6"/></g>
<path d="M86.1,91.4 H498.9" stroke="#666" stroke-width="1.3"/>
<path d="M86.8,90.8 V357.4" stroke="#7a7a7a" stroke-width="1.6"/>
<path d="M498.1,90.8 V357.4" stroke="#7a7a7a" stroke-width="1.7"/>
<path d="M86,356.6 H498.9" stroke="#7a7a7a" stroke-width="1.7"/>
<path d="M387.8,108 V87.6 H420.8 L419.4,154.3" fill="none" stroke="#cc1f2a" stroke-width="2.2"/>
<path d="M340.3,120.5 L342,171 H470.6 V165" fill="none" stroke="#111" stroke-width="2.2"/>
<path d="M372,168.2 V154.4 H383 M407,154.2 H421.3 V168.5" fill="none" stroke="#5d6270" stroke-width="2.2"/>
<rect x="381.5" y="149" width="27.5" height="11.2" rx="2.5" fill="#0a0a0a"/>
<rect x="398" y="149" width="5" height="11.2" fill="#e8e8ec"/>
<path d="M371.4,179.2 V186.8 H445.5 V179" fill="none" stroke="#c4efcc" stroke-width="4.5"/>
<path d="M371.4,179.2 V186.8 H445.5 V179" fill="none" stroke="#2f8a55" stroke-width="2"/>
<path d="M371.9,203 V391" fill="none" stroke="#2f8a5a" stroke-width="2.4"/>
<path d="M420.6,202.3 L421.6,391" fill="none" stroke="#c8141e" stroke-width="2.8"/>
<path d="M440.2,140.9 V128.5 C440.2,121.59 446.14,117.7 456.70,117.7 C467.26,117.7 473.20,121.59 473.20,128.5 V140.9 Z" fill="#050505"/>
<path d="M444.2,139.9 V154" stroke="#050505" stroke-width="2.7" stroke-linecap="round"/>
<path d="M457.2,139.9 V154" stroke="#050505" stroke-width="2.7" stroke-linecap="round"/>
<path d="M470.0,139.9 V154" stroke="#050505" stroke-width="2.7" stroke-linecap="round"/>
<path d="M455.5,178 H475.1 V190 M475.1,223 V239 H455.3" fill="none" stroke="#3c3f48" stroke-width="2"/>
<rect x="468.6" y="189.5" width="12.2" height="33.8" fill="#fbe2bb" stroke="#9a9a9a" stroke-width="0.7"/>
<rect x="471.5" y="191" width="3" height="31" fill="#fff3dc" opacity="0.6"/>
<rect x="469" y="195.2" width="11.4" height="4.70" fill="#e6121c"/>
<rect x="469" y="204.3" width="11.4" height="4.70" fill="#e6121c"/>
<rect x="469" y="213.9" width="11.4" height="4.70" fill="#e6121c"/>
<rect x="468.2" y="189.1" width="13" height="2.2" fill="#6e7276"/>
<rect x="468.2" y="221.4" width="13" height="2.2" fill="#6e7276"/>
<path d="M20.4,426 V410.6 H32 M64,410.6 H78.2 V429" fill="none" stroke="#34373f" stroke-width="1.6"/>
<rect x="32" y="405.4" width="32" height="10.5" fill="#fbe2bb" stroke="#9a9a9a" stroke-width="0.7"/>
<rect x="37" y="405.8" width="5.10" height="9.7" fill="#e6121c"/>
<rect x="45.5" y="405.8" width="5.60" height="9.7" fill="#e6121c"/>
<rect x="55.1" y="405.8" width="5.00" height="9.7" fill="#e6121c"/>
<rect x="31.6" y="405" width="2" height="11.3" fill="#6e7276"/>
<rect x="62.4" y="405" width="2" height="11.3" fill="#6e7276"/>
<text x="22.9" y="426.3" font-size="8.6" textLength="48" lengthAdjust="spacingAndGlyphs" fill="#1a1a1a" stroke="#1a1a1a" stroke-width="0.3">2.2 KiloOhms</text>
<path d="M92,427.4 V412.4 H105 M131,412.4 H144.2 V429.2" fill="none" stroke="#3c3f48" stroke-width="1.8"/>
<rect x="103.9" y="405.6" width="28.5" height="14.1" rx="2.8" fill="#0a0a0a"/>
<rect x="121.8" y="405.6" width="4.8" height="14.1" fill="#ececf0"/>
<text x="105.8" y="432.4" font-size="8.4" textLength="20" lengthAdjust="spacingAndGlyphs" fill="#1a1a1a" stroke="#1a1a1a" stroke-width="0.3">diode</text>
<path d="M165.2,417.8 V408.3 C165.2,403.72 170.16,400.4 177.00,400.4 C183.84,400.4 188.80,403.72 188.80,408.3 V417.8 Z" fill="#050505"/>
<path d="M168.2,416.8 V431.2" stroke="#050505" stroke-width="2.4" stroke-linecap="round"/>
<path d="M177.6,416.8 V431.2" stroke="#050505" stroke-width="2.4" stroke-linecap="round"/>
<path d="M187.1,416.8 V431.2" stroke="#050505" stroke-width="2.4" stroke-linecap="round"/>
<text x="154.7" y="442.6" font-size="8.8" textLength="42.6" lengthAdjust="spacingAndGlyphs" fill="#1a1a1a" stroke="#1a1a1a" stroke-width="0.3">P2N22222A</text>
<text x="158.9" y="453.4" font-size="9" textLength="34.9" lengthAdjust="spacingAndGlyphs" fill="#1a1a1a" stroke="#1a1a1a" stroke-width="0.3">Transistor</text>
<text x="376.1" y="414.2" font-size="11.6" textLength="43.5" lengthAdjust="spacingAndGlyphs" fill="#111" stroke="#111" stroke-width="0.35">To Motor</text>
<text x="529.5" y="38.2" font-size="11" textLength="42.8" lengthAdjust="spacingAndGlyphs" fill="#111" stroke="#111" stroke-width="0.35">To Pin 11</text>
</svg></body></html>
